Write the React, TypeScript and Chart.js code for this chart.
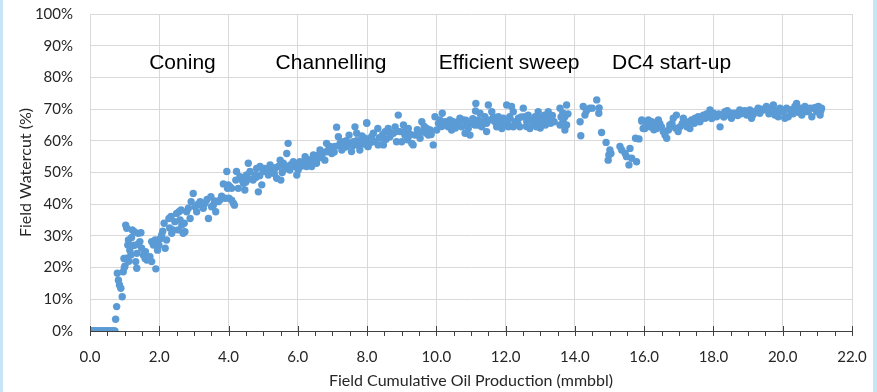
import React, { useEffect, useRef } from "react";
import { Chart, registerables } from "chart.js";

Chart.register(...registerables);

// Field cumulative oil production (mmbbl) vs field watercut (%)
const rampPoints: [number, number][] = [
  [0.0, 0], [0.02, 0], [0.04, 0], [0.06, 0], [0.09, 0], [0.11, 0], [0.13, 0], [0.16, 0],
  [0.18, 0], [0.21, 0], [0.24, 0], [0.27, 0], [0.3, 0], [0.33, 0], [0.36, 0], [0.39, 0],
  [0.42, 0], [0.45, 0], [0.48, 0], [0.51, 0], [0.54, 0], [0.57, 0], [0.6, 0], [0.63, 0],
  [0.66, 0], [0.69, 0], [0.72, 0],
  [0.74, 3.7], [0.77, 7.7], [0.93, 10.8], [0.85, 14.5], [0.82, 16], [0.89, 13.5], [0.79, 18.2],
  [0.96, 18.7], [0.99, 20], [0.98, 22.9], [1.03, 33.4], [1.06, 32.4], [1.11, 28.7], [1.09, 27.1],
];

const coningPoints: [number, number][] = [
  [1.15, 25.5], [1.18, 24], [1.22, 31.9], [1.28, 31.3], [1.3, 27.1], [1.35, 24.5], [1.32, 21.9],
  [1.35, 19.8], [1.39, 30.8], [1.47, 31], [1.44, 28.2], [1.49, 26.1], [1.54, 24], [1.59, 22.9],
  [1.64, 22.4], [1.73, 23.4], [1.78, 21.9], [1.9, 19.6], [1.83, 27.1], [1.88, 28.7], [1.78, 28.2],
  [1.95, 25.5], [1.99, 27.1], [2.07, 30.3], [2.14, 34], [2.17, 26.1], [2.21, 28.7], [2.28, 35.5],
  [2.34, 36.1], [2.36, 30.8], [2.4, 31.9], [2.45, 34.5], [2.5, 37.1], [2.57, 37.6], [2.63, 38.2],
  [2.55, 31.9], [2.65, 33.4], [2.69, 30.8], [2.74, 31.3], [2.72, 34], [2.79, 37.6], [2.89, 35.5],
  [2.84, 38.7], [2.92, 40.8], [2.98, 43.4], [3.03, 39.2], [3.08, 37.6], [3.18, 40.8], [3.22, 39.7],
  [3.27, 38.7], [3.32, 40.3], [3.42, 35.5], [3.49, 42.4], [3.51, 39.2], [3.56, 39.7], [3.63, 37.6],
  [3.7, 40.8], [3.75, 41.3], [3.85, 46.4], [3.9, 41.9], [3.97, 45], [4.04, 45.5], [4.09, 41.3],
  [4.14, 40.3], [1.01, 20.5], [1.05, 23], [1.12, 22], [1.25, 27], [1.6, 25], [2.02, 29],
  [1.2, 29.5], [1.4, 27.5], [2.1, 31.5], [2.3, 32.5], [2.6, 35], [3.12, 40], [3.38, 41.5],
  [3.6, 41], [3.8, 42.5],
];

const channellingPoints: [number, number][] = [
  [3.95, 50.3], [3.99, 46.1], [4.01, 41.9], [4.17, 39.7], [4.09, 45], [4.21, 47.6], [4.23, 50.3],
  [4.28, 45], [4.33, 48.7], [4.43, 46.6], [4.47, 44.5], [4.52, 49.2], [4.57, 52.9], [4.62, 50.3],
  [4.71, 47.6], [4.76, 49.2], [4.81, 51.3], [4.86, 43.9], [4.91, 51.9], [4.96, 46.1], [5.0, 50.3],
  [5.05, 51.3], [5.15, 49.2], [5.2, 52.4], [5.25, 50.8], [5.32, 49.7], [5.39, 48.2], [5.44, 51.9],
  [5.49, 53.9], [5.51, 47.6], [5.58, 52.9], [5.68, 56], [5.72, 59.2], [5.63, 51.3], [5.77, 50.8],
  [5.87, 53.4], [5.92, 51.9], [5.97, 49.2], [6.01, 50.8], [6.06, 53.4], [6.16, 52.4], [6.21, 55],
  [6.25, 51.9], [6.35, 53.9], [6.4, 51.9], [6.45, 55.5], [6.54, 52.9], [6.59, 54.5], [6.64, 57.1],
  [6.69, 55], [6.78, 53.9], [6.83, 59.2], [6.88, 56.6], [6.93, 58.2], [6.98, 56], [7.07, 58.2],
  [7.12, 64.3], [7.17, 61.3], [7.22, 59.2], [7.27, 57.1], [7.31, 59.7], [7.41, 58.2], [7.48, 61.8],
  [7.55, 56.6], [7.6, 59.7], [7.65, 64.4], [7.7, 62.4], [7.75, 58.7], [7.79, 57.1], [7.84, 59.7],
  [7.94, 60.8], [7.99, 65.7], [8.03, 58.2], [8.13, 61.3], [8.18, 62.4],
  [4.4, 47.5], [4.6, 48], [4.9, 49], [5.1, 51], [5.35, 51.5], [5.55, 50], [5.8, 52.5], [6.1, 52],
  [6.3, 54], [6.5, 54], [6.7, 56], [6.9, 57.5], [7.05, 56.5], [7.35, 58], [7.5, 59], [7.7, 60],
  [7.9, 59], [8.1, 59.5], [4.5, 47], [4.8, 48.5], [5.3, 50.5], [5.7, 52], [6.0, 52.5],
  [6.2, 53], [6.6, 55.5], [6.8, 56.5], [7.0, 57], [7.2, 58.5], [7.4, 60], [7.6, 58.5], [7.85, 61.5],
];

const sweepPoints: [number, number][] = [
  [7.99, 65.5], [8.02, 58.2], [8.08, 60.3], [8.23, 59.7], [8.31, 63.9], [8.32, 58.7], [8.42, 60.8],
  [8.47, 58.7], [8.52, 62.9], [8.61, 63.9], [8.66, 61.3], [8.76, 62.4], [8.81, 64.4], [8.85, 59.7],
  [8.9, 68.1], [8.95, 62.9], [9.0, 59.7], [9.05, 65], [9.09, 61.8], [9.17, 60.3], [9.19, 63.9],
  [9.29, 59.2], [9.33, 58.7], [9.38, 61.8], [9.48, 62.4], [9.53, 60.8], [9.58, 66], [9.62, 62.9],
  [9.72, 63.9], [9.77, 61.8], [9.82, 63.4], [9.91, 58.7], [9.96, 67.6], [10.01, 63.4], [10.06, 65.5],
  [10.1, 66.6], [10.17, 68.7], [10.2, 65], [10.25, 66], [10.34, 64.4], [10.39, 66.6], [10.44, 63.4],
  [10.49, 66], [10.59, 65], [10.68, 67.1], [10.73, 64.4], [10.78, 66.6], [10.83, 62.4], [10.87, 65],
  [10.92, 63.9], [10.97, 61.8], [11.02, 65.5], [11.11, 65], [11.14, 71.8], [11.13, 69.4], [11.21, 66.6],
  [11.26, 68.7], [11.31, 64.4], [11.4, 67.6], [11.45, 62.9], [11.5, 71.3], [11.55, 66.6], [11.6, 69.2],
  [11.69, 66], [11.74, 64.4], [11.79, 67.6], [11.89, 63.9], [11.93, 67.1], [12.03, 71.3], [12.08, 65],
  [12.12, 67.1], [12.17, 70.8], [12.22, 64.4], [12.08, 64.4], [12.12, 67.6], [12.22, 69.2], [12.27, 66],
  [12.37, 67.1], [12.41, 64.4], [12.51, 70.3], [12.56, 67.6], [12.61, 66], [12.65, 68.1], [12.7, 63.9],
  [12.75, 66.6], [12.8, 65.5], [12.85, 67.6], [12.89, 64.4], [12.94, 69.2], [12.99, 67.1], [13.04, 65.5],
  [13.12, 68.1], [13.18, 66.6], [13.23, 69.2], [13.28, 67.1], [13.57, 70.3], [13.57, 65], [13.66, 66.6],
  [13.71, 67.6], [13.71, 63.4], [13.76, 71.3], [13.76, 65], [14.15, 66], [14.17, 61.6], [14.24, 70.8],
  [14.29, 68.1], [14.33, 69.4], [14.43, 70.3], [14.5, 70.3], [14.63, 72.9], [14.7, 70.4], [14.69, 68.7],
  [8.35, 61], [8.55, 60.5], [8.7, 62.5], [9.1, 63], [9.25, 62], [9.45, 63.5], [9.65, 64.5], [9.85, 62],
  [10.3, 65], [10.55, 64], [10.65, 66], [10.95, 65.5], [11.05, 67], [11.35, 66], [11.65, 67.5],
  [11.85, 65.5], [12.0, 66.5], [12.3, 65], [12.45, 67.5], [12.6, 64.5], [12.9, 66.5], [13.0, 64],
  [13.15, 65], [13.35, 68], [13.4, 66], [13.6, 67.5], [13.8, 68.5], [8.45, 62], [8.85, 63],
  [9.2, 61.5], [9.7, 62.5], [10.15, 64.5], [10.45, 65.5], [10.85, 66.5], [11.2, 65], [11.45, 65.5],
  [11.95, 65], [12.35, 65.5], [12.7, 66.5], [13.1, 66.5], [13.3, 65.5], [13.65, 68.8],
];

const dc4Points: [number, number][] = [
  [14.77, 62.6], [14.9, 59.5], [15.01, 57.1], [14.98, 55.5], [15.04, 56], [14.96, 53.9], [15.3, 58.2],
  [15.35, 57.1], [15.45, 56], [15.49, 55], [15.59, 57.6], [15.64, 54.5], [15.56, 52.4], [15.78, 53.4],
  [15.75, 60.8], [15.85, 60.6], [15.93, 66.2], [16.02, 63.9], [16.12, 65.5], [16.22, 64.4],
  [15.93, 66.6], [15.97, 63.9], [16.07, 65], [16.12, 66.6], [16.17, 64.4], [16.22, 66], [16.31, 65],
  [16.36, 63.9], [16.41, 66.6], [16.5, 64.4], [16.55, 62.9], [16.6, 61.8], [16.65, 60.8], [16.7, 63.4],
  [16.74, 65], [16.84, 67.1], [16.93, 68.1], [16.98, 62.9], [17.03, 64.4], [17.13, 67.1], [17.18, 66],
  [17.23, 64.4], [17.32, 63.9], [17.37, 66.6], [17.47, 67.1], [17.56, 67.6], [17.61, 66], [17.71, 68.1],
  [17.76, 67.1], [17.85, 67.6], [17.9, 69.7], [18.0, 68.7], [18.09, 67.6], [18.19, 64.4], [18.24, 68.1],
  [18.33, 69.2], [18.43, 68.1], [18.52, 68.7], [18.52, 67.1], [18.62, 68.7], [18.76, 69.7], [18.86, 69.2],
  [18.96, 68.1], [19.05, 69.7], [19.1, 67.1], [19.2, 69.2], [19.29, 70.3], [19.34, 68.7], [19.44, 69.7],
  [19.53, 70.8], [19.63, 69.7], [19.73, 71.3], [19.77, 68.1], [19.87, 67.6], [19.92, 70.3], [20.02, 69.2],
  [20.06, 67.1], [20.11, 70.3], [20.16, 67.6], [20.26, 69.2], [20.35, 70.8], [20.4, 71.8], [20.5, 70.3],
  [20.55, 68.1], [20.64, 70.8], [20.69, 69.2], [20.79, 70.3], [20.84, 67.6], [20.88, 70.3], [20.98, 69.2],
  [21.03, 70.8], [21.08, 68.1], [21.12, 70.3],
  [16.45, 65.5], [16.9, 64], [17.1, 65.5], [17.45, 65.5], [17.65, 67], [17.95, 67], [18.15, 68.5],
  [18.4, 69.5], [18.7, 68], [18.9, 69.5], [19.15, 68.3], [19.4, 70], [19.6, 68.5], [19.85, 69.5],
  [20.2, 69.8], [20.45, 69], [20.6, 69.8], [20.95, 70.5], [21.1, 69.5], [16.28, 63.5], [16.8, 65.5],
  [17.3, 66], [17.8, 68.5], [18.3, 67.5], [18.8, 68.5], [19.25, 69.5], [19.7, 69.5], [20.3, 68.5],
  [20.75, 69.5],
];

const phaseLabels = ["Coning", "Channelling", "Efficient sweep", "DC4 start-up"];
const phaseLabelX = [2.67, 6.96, 12.1, 16.79];
const phaseLabelY = [84.5, 84.5, 84.5, 84.5];

const X_TITLE = "Field Cumulative Oil Production (mmbbl)";
const Y_TITLE = "Field Watercut (%)";

const POINT_COLOR = "#5B9BD5";
const GRID_COLOR = "#d9d9d9";
const TEXT_COLOR = "#262626";
const TICK_FONT = "Lato";

const xTickPlugin = {
  id: "xTickMarks",
  afterDraw(chart: any) {
    const xs = chart.scales.x;
    const bottom = chart.chartArea.bottom;
    const ctx = chart.ctx;
    ctx.save();
    ctx.strokeStyle = "#404040";
    ctx.lineWidth = 1;
    xs.ticks.forEach((t: any) => {
      const px = Math.round(xs.getPixelForValue(t.value)) + 0.5;
      const major = Math.abs(t.value % 2) < 1e-9;
      ctx.beginPath();
      ctx.moveTo(px, major ? bottom - 5 : bottom);
      ctx.lineTo(px, bottom + 5);
      ctx.stroke();
    });
    ctx.restore();
  },
};

const phaseLabelPlugin = {
  id: "phaseLabels",
  afterDatasetsDraw(chart: any) {
    const ctx = chart.ctx;
    const xs = chart.scales.x;
    const ys = chart.scales.y;
    ctx.save();
    ctx.font = "21px 'Liberation Sans', Arial, sans-serif";
    ctx.fillStyle = "#000";
    ctx.textAlign = "center";
    ctx.textBaseline = "middle";
    phaseLabels.forEach((label, i) => {
      ctx.fillText(label, xs.getPixelForValue(phaseLabelX[i]), ys.getPixelForValue(phaseLabelY[i]));
    });
    ctx.restore();
  },
};

export default function App() {
  const canvasRef = useRef<HTMLCanvasElement | null>(null);

  useEffect(() => {
    document.body.style.margin = "0";
    const canvas = canvasRef.current;
    if (!canvas) return;
    const data = [
      ...rampPoints,
      ...coningPoints,
      ...channellingPoints,
      ...sweepPoints,
      ...dc4Points,
    ].map(([x, y]) => ({ x, y }));

    const chart = new Chart(canvas, {
      type: "scatter",
      data: {
        datasets: [
          {
            label: "Field watercut",
            data,
            backgroundColor: POINT_COLOR,
            borderColor: POINT_COLOR,
            borderWidth: 0,
            pointRadius: 3.7,
            pointHoverRadius: 3.7,
          },
        ],
      },
      options: {
        animation: false,
        responsive: false,
        maintainAspectRatio: false,
        layout: { padding: { top: 14, right: 25, left: 0, bottom: 0 } },
        plugins: {
          legend: { display: false },
          tooltip: { enabled: false },
        },
        scales: {
          x: {
            type: "linear",
            min: 0,
            max: 22,
            afterFit: (s: any) => {
              s.height = 61;
              s.paddingLeft = 0;
              s.paddingRight = 0;
            },
            ticks: {
              stepSize: 0.5,
              autoSkip: false,
              maxRotation: 0,
              padding: 17,
              color: TEXT_COLOR,
              font: { family: TICK_FONT, size: 15 },
              callback: (v: any) => (Math.abs(Number(v) % 2) < 1e-9 ? Number(v).toFixed(1) : ""),
            },
            grid: {
              drawTicks: false,
              color: (c: any) =>
                c.tick && Math.abs(c.tick.value % 2) < 1e-9 ? GRID_COLOR : "rgba(0,0,0,0)",
            },
            border: { color: "#404040", width: 1 },
            title: {
              display: true,
              text: X_TITLE,
              color: TEXT_COLOR,
              font: { family: TICK_FONT, size: 16 },
              padding: { top: 0, bottom: 2 },
            },
          },
          y: {
            type: "linear",
            min: 0,
            max: 100,
            afterFit: (s: any) => {
              s.width = 90;
              s.paddingTop = 0;
              s.paddingBottom = 0;
            },
            ticks: {
              stepSize: 10,
              padding: 17,
              color: TEXT_COLOR,
              font: { family: TICK_FONT, size: 15 },
              callback: (v: any) => `${v}%`,
            },
            grid: { drawTicks: false, color: GRID_COLOR },
            border: { color: GRID_COLOR },
            title: {
              display: true,
              text: Y_TITLE,
              color: TEXT_COLOR,
              font: { family: TICK_FONT, size: 16 },
              padding: { top: 16, bottom: 0 },
            },
          },
        },
      },
      plugins: [xTickPlugin, phaseLabelPlugin],
    });
    return () => chart.destroy();
  }, []);

  return (
    <div
      style={{
        position: "fixed",
        left: 0,
        top: 0,
        width: 877,
        height: 392,
        background: "#fff",
        overflow: "hidden",
      }}
    >
      <div style={{ position: "absolute", left: 0, top: 0, width: 3, height: 392, background: "#c7e4f8" }} />
      <div style={{ position: "absolute", right: 0, top: 0, width: 4, height: 392, background: "#c7e4f8" }} />
      <canvas ref={canvasRef} width={877} height={392} style={{ display: "block" }} />
    </div>
  );
}
